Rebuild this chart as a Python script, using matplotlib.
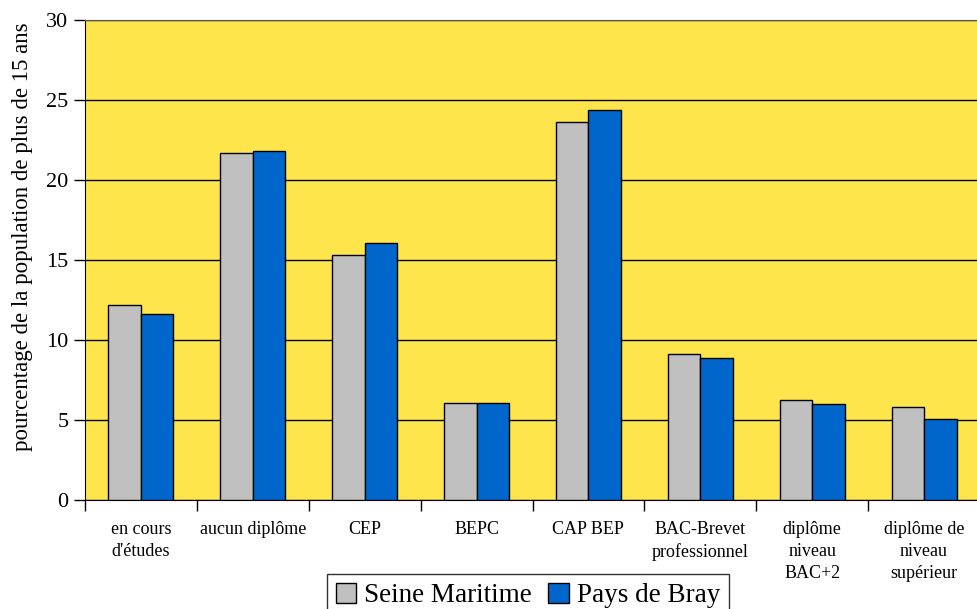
import numpy as np
import matplotlib
matplotlib.use("Agg")
import matplotlib.pyplot as plt
from matplotlib.ticker import FixedLocator

plt.rcParams['font.family'] = ['Liberation Serif', 'DejaVu Serif']

categories = ["en cours\nd'études", "aucun diplôme", "CEP", "BEPC", "CAP BEP",
              "BAC-Brevet\nprofessionnel", "diplôme\nniveau\nBAC+2", "diplôme de\nniveau\nsupérieur"]
seine = [12.2, 21.7, 15.3, 6.05, 23.6, 9.1, 6.25, 5.8]
bray = [11.6, 21.8, 16.05, 6.05, 24.4, 8.85, 6.0, 5.05]
series_names = ["Seine Maritime", "Pays de Bray"]

fig = plt.figure(figsize=(9.77, 6.09), dpi=100)
ax = fig.add_axes([85/977, 1-500/609, 895/977, 480/609])
ax.set_facecolor('#FFE54C')

x = np.arange(len(categories))
w = 0.29
ax.bar(x - w/2, seine, w, color='#C0C0C0', edgecolor='black', linewidth=1, label=series_names[0], zorder=3)
ax.bar(x + w/2, bray, w, color='#0066CC', edgecolor='black', linewidth=1, label=series_names[1], zorder=3)

ax.set_xlim(-0.5, len(categories) - 0.5)
ax.set_ylim(0, 30)
ax.set_yticks(np.arange(0, 31, 5))
ax.yaxis.grid(True, color='black', linewidth=1, zorder=1)
ax.set_axisbelow(True)

ax.set_xticks(x)
ax.set_xticklabels(categories, fontsize=13, linespacing=1.4)
ax.tick_params(axis='x', which='major', length=0, pad=15)
ax.xaxis.set_minor_locator(FixedLocator(np.arange(-0.5, len(categories), 1)))
ax.tick_params(axis='x', which='minor', length=8, width=1, direction='out')
ax.tick_params(axis='y', labelsize=16, length=8, width=1, direction='out', pad=4)

ax.spines['right'].set_visible(False)
ax.spines['top'].set_color('#555555')
ax.set_ylabel('pourcentage de la population de plus de 15 ans', fontsize=16.5)
ax.yaxis.set_label_coords(-52/895, 0.548)

leg = fig.legend(loc='upper center', bbox_to_anchor=(528/977, 1-574/609), ncol=2, fontsize=19.5,
                 frameon=True, fancybox=False, edgecolor='black', handlelength=0.75, handleheight=0.75,
                 handletextpad=0.3, columnspacing=0.6, borderpad=0.33, borderaxespad=0)
leg.get_frame().set_linewidth(1)

fig.savefig('out.png', dpi=100)
